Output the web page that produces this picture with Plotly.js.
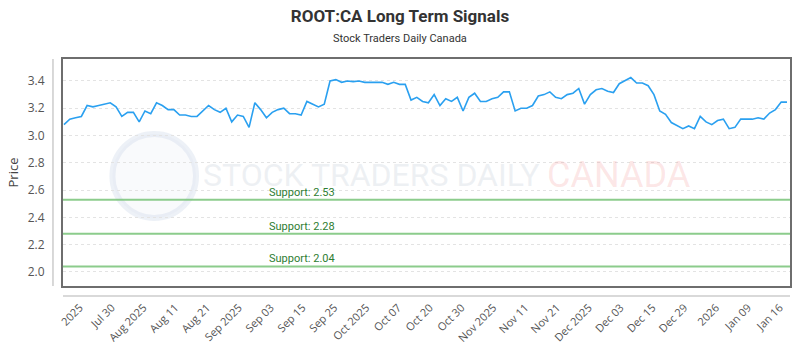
<!DOCTYPE html>
<html>
<head>
<meta charset="utf-8">
<script src="https://cdn.plot.ly/plotly-3.0.1.min.js"></script>
<style>html,body{margin:0;padding:0;background:#fff;}#chart{width:800px;height:350px;}</style>
</head>
<body>
<div id="chart"></div>
<script>
// ---- data ----
const prices = [
  3.08, 3.12, 3.13, 3.14, 3.22, 3.21, 3.22, 3.23, 3.24, 3.21,
  3.14, 3.17, 3.17, 3.10, 3.18, 3.16, 3.24, 3.22, 3.19, 3.19,
  3.15, 3.15, 3.14, 3.14, 3.18, 3.22, 3.19, 3.17, 3.20, 3.10,
  3.15, 3.14, 3.06, 3.24, 3.19, 3.13, 3.17, 3.19, 3.20, 3.16,
  3.16, 3.15, 3.25, 3.23, 3.21, 3.23, 3.40, 3.41, 3.39, 3.40,
  3.395, 3.40, 3.39, 3.39, 3.39, 3.39, 3.375, 3.39, 3.375, 3.375,
  3.26, 3.28, 3.25, 3.24, 3.30, 3.22, 3.27, 3.25, 3.28, 3.18,
  3.28, 3.31, 3.25, 3.25, 3.27, 3.28, 3.32, 3.32, 3.18, 3.20,
  3.20, 3.22, 3.29, 3.30, 3.32, 3.28, 3.27, 3.30, 3.31, 3.345,
  3.23, 3.30, 3.335, 3.345, 3.325, 3.315, 3.38, 3.40, 3.425, 3.385,
  3.385, 3.365, 3.30, 3.18, 3.155, 3.095, 3.07, 3.05, 3.07, 3.05,
  3.14, 3.10, 3.08, 3.11, 3.12, 3.05, 3.06, 3.12, 3.12, 3.12,
  3.13, 3.12, 3.165, 3.19, 3.245, 3.245
];
const tickLabels = ["2025","Jul 30","Aug 2025","Aug 11","Aug 21","Sep 2025","Sep 03","Sep 15",
  "Sep 25","Oct 2025","Oct 07","Oct 20","Oct 30","Nov 2025","Nov 11","Nov 21","Dec 2025",
  "Dec 03","Dec 15","Dec 29","2026","Jan 09","Jan 16"];
const supportLevels = [2.53, 2.28, 2.04];
const supportLabels = ["Support: 2.53", "Support: 2.28", "Support: 2.04"];
const yTicks = [2.0, 2.2, 2.4, 2.6, 2.8, 3.0, 3.2, 3.4];
const titleText = "ROOT:CA Long Term Signals";
const subtitleText = "Stock Traders Daily Canada";

// ---- layout helpers ----
const idx = prices.map((_, i) => i);
const n = prices.length;
const tickStart = 2.75, tickStep = 5.5;
const tickVals = tickLabels.map((_, i) => tickStart + i * tickStep);

const shapes = supportLevels.map(v => ({
  type: 'line', xref: 'paper', x0: 0, x1: 1, yref: 'y', y0: v, y1: v,
  line: {color: 'rgba(120,195,120,0.85)', width: 2}, layer: 'above'
}));
// offset axis lines
shapes.push({type:'line', xref:'paper', yref:'paper', x0:-0.0138, x1:-0.0138, y0:0, y1:1,
  line:{color:'#cccccc', width:1.5}});
shapes.push({type:'line', xref:'paper', yref:'paper', x0:0, x1:1, y0:-0.044, y1:-0.044,
  line:{color:'#cccccc', width:1.5}});
// watermark logo ring
shapes.push({type:'circle', xref:'paper', yref:'paper', layer:'below',
  x0:0.068, x1:0.183, y0:0.30, y1:0.67,
  line:{color:'rgba(195,208,228,0.3)', width:6}, fillcolor:'rgba(228,234,243,0.22)'});

const annotations = supportLevels.map((v, i) => ({
  xref: 'paper', x: 0.28, yref: 'y', y: v, xanchor: 'left', yanchor: 'bottom',
  text: supportLabels[i], showarrow: false, yshift: -1,
  font: {family: 'Roboto, sans-serif', size: 11, color: '#2e7d32'}
}));
annotations.push({xref:'paper', yref:'paper', x:0.4635, y:1, yanchor:'bottom', yshift:12,
  text: subtitleText, showarrow:false,
  font:{family:'Roboto, sans-serif', size:11, color:'#333'}});
annotations.push({xref:'paper', yref:'paper', x:0.19, y:0.49, xanchor:'left', yanchor:'middle',
  text:'STOCK TRADERS DAILY', showarrow:false,
  font:{family:'Roboto, sans-serif', size:32, color:'rgba(205,212,222,0.35)'}});
annotations.push({xref:'paper', yref:'paper', x:0.663, y:0.49, xanchor:'left', yanchor:'middle',
  text:'CANADA', showarrow:false,
  font:{family:'Roboto, sans-serif', size:36, color:'rgba(240,130,130,0.2)'}});

const trace = {
  x: idx, y: prices, type: 'scatter', mode: 'lines',
  line: {color: '#2aa0f0', width: 1.6}, hoverinfo: 'skip'
};

const layout = {
  width: 800, height: 350,
  margin: {l: 63, r: 10, t: 59, b: 64},
  paper_bgcolor: '#fff', plot_bgcolor: '#fff',
  title: {text: '<b>' + titleText + '</b>', x: 0.5, xanchor: 'center', y: 0.955, yanchor: 'middle',
    font: {family: 'Roboto, sans-serif', size: 17, color: '#333'}},
  showlegend: false,
  xaxis: {
    range: [-0.17, n - 0.48], showgrid: false, zeroline: false,
    showline: true, mirror: true, linecolor: '#6e6e6e', linewidth: 2,
    tickmode: 'array', tickvals: tickVals, ticktext: tickLabels, tickangle: -45,
    ticks: '', ticklabelstandoff: 9,
    tickfont: {family: '"Open Sans", sans-serif', size: 11, color: '#555'}
  },
  yaxis: {
    range: [1.897, 3.561], zeroline: false,
    showline: true, mirror: true, linecolor: '#6e6e6e', linewidth: 2,
    showgrid: true, gridcolor: '#e3e3e3', griddash: 'dot', gridwidth: 1,
    tickmode: 'array', tickvals: yTicks, tickformat: '.1f', ticks: '',
    ticklabelstandoff: 14,
    tickfont: {family: '"Open Sans", sans-serif', size: 12, color: '#555'},
    title: {text: 'Price', standoff: 6, font: {family: '"Open Sans", sans-serif', size: 13, color: '#444'}}
  },
  shapes: shapes,
  annotations: annotations
};

Plotly.newPlot('chart', [trace], layout, {displayModeBar: false, staticPlot: true});
</script>
</body>
</html>
